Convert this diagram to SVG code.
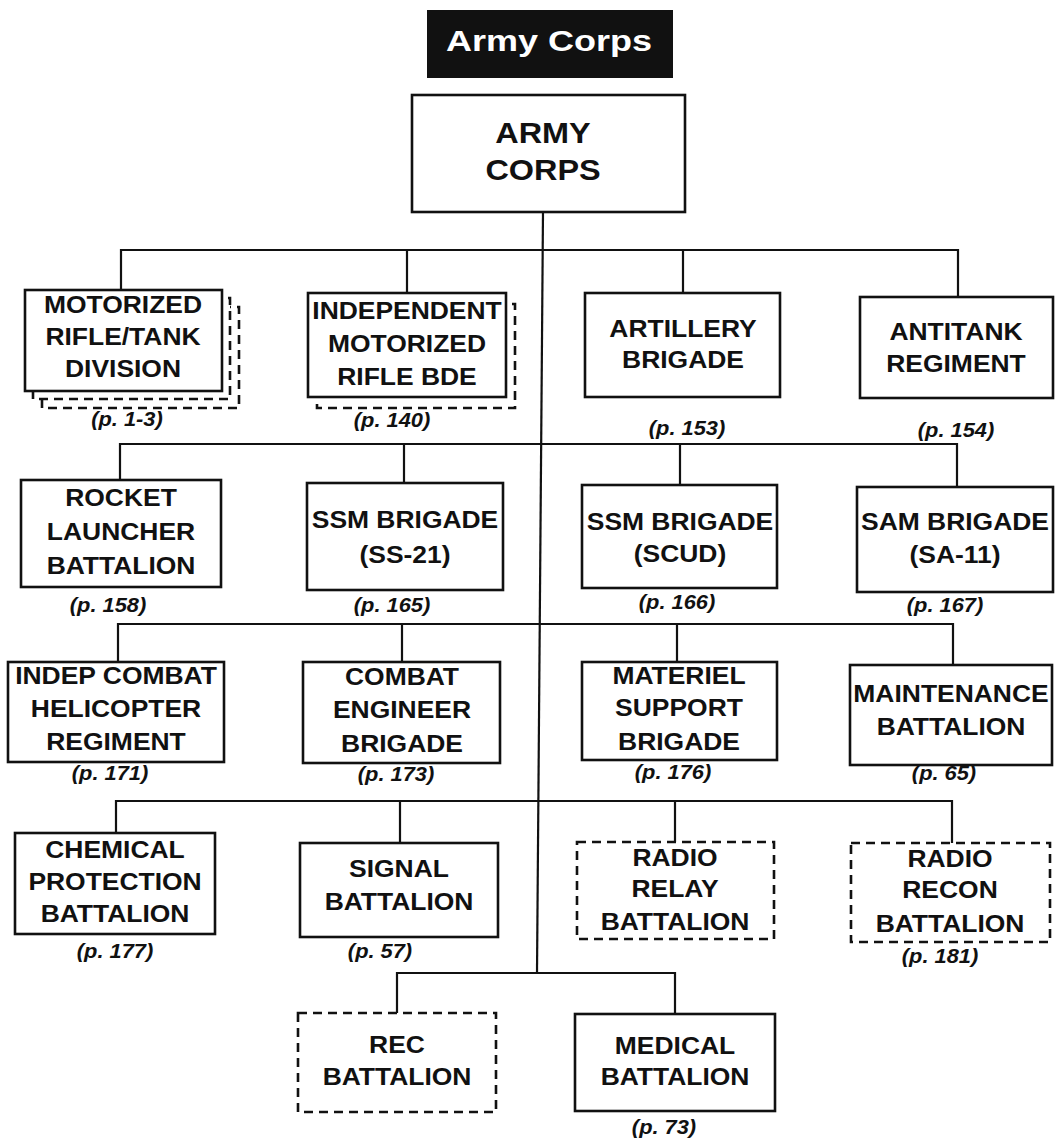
<svg xmlns="http://www.w3.org/2000/svg" width="1058" height="1142" viewBox="0 0 1058 1142">
<style>
.bx{fill:#fff;stroke:#111;stroke-width:2.6}
.dx{fill:#fff;stroke:#111;stroke-width:2.6;stroke-dasharray:9 6}
.t{font-family:"Liberation Sans",Arial,sans-serif;font-weight:bold;font-size:23px;fill:#111;text-anchor:middle}
.p{font-family:"Liberation Sans",Arial,sans-serif;font-weight:bold;font-style:italic;font-size:19.5px;fill:#111;text-anchor:middle}
.c{fill:none;stroke:#111;stroke-width:2.2}
</style>
<rect width="1058" height="1142" fill="#fff"/>
<g id="title">
<rect x="427" y="10" width="246" height="68" fill="#111"/>
<text transform="translate(549 0) scale(1.2 1)" x="0" y="51" style="font-family:'Liberation Sans',Arial,sans-serif;font-weight:bold;font-size:30px;fill:#fff;text-anchor:middle">Army Corps</text>
</g>
<g id="connectors">
<path class="c" d="M543 212 L537 973"/>
<path class="c" d="M121 290 V250 H958 V297 M407 250 V293 M683 250 V293"/>
<path class="c" d="M120 480 V444 H957 V487 M404 444 V483 M680 444 V485"/>
<path class="c" d="M118 662 V624 H953 V665 M402 624 V662 M677 624 V662"/>
<path class="c" d="M116 833 V801 H952 V843 M400 801 V843 M675 801 V842"/>
<path class="c" d="M397 1013 V973 H675 V1014"/>
</g>
<g id="army-corps">
<rect class="bx" x="412" y="95" width="273" height="117"/>
<text class="t" style="font-size:30px" transform="translate(543 0) scale(1.08 1)"><tspan x="0" y="143">ARMY</tspan><tspan x="0" y="180">CORPS</tspan></text>
</g>
<g id="motorized">
<rect class="dx" x="42" y="307" width="197" height="101"/>
<rect class="dx" x="33" y="298" width="197" height="101"/>
<rect class="bx" x="25" y="290" width="197" height="101"/>
<text class="t" transform="translate(123 0) scale(1.15 1)"><tspan x="0" y="313">MOTORIZED</tspan><tspan x="0" y="345">RIFLE/TANK</tspan><tspan x="0" y="377">DIVISION</tspan></text>
<text class="p" transform="translate(127 0) scale(1.12 1)" x="0" y="426">(p. 1-3)</text>
</g>
<g id="independent">
<rect class="dx" x="317" y="304" width="198" height="104"/>
<rect class="bx" x="308" y="293" width="198" height="104"/>
<text class="t" transform="translate(407 0) scale(1.15 1)"><tspan x="0" y="319">INDEPENDENT</tspan><tspan x="0" y="352">MOTORIZED</tspan><tspan x="0" y="385">RIFLE BDE</tspan></text>
<text class="p" transform="translate(392 0) scale(1.12 1)" x="0" y="427">(p. 140)</text>
</g>
<g id="artillery">
<rect class="bx" x="585" y="293" width="195" height="104"/>
<text class="t" transform="translate(683 0) scale(1.15 1)"><tspan x="0" y="337">ARTILLERY</tspan><tspan x="0" y="368">BRIGADE</tspan></text>
<text class="p" transform="translate(687 0) scale(1.12 1)" x="0" y="435">(p. 153)</text>
</g>
<g id="antitank">
<rect class="bx" x="860" y="297" width="193" height="101"/>
<text class="t" transform="translate(956 0) scale(1.15 1)"><tspan x="0" y="340">ANTITANK</tspan><tspan x="0" y="372">REGIMENT</tspan></text>
<text class="p" transform="translate(956 0) scale(1.12 1)" x="0" y="437">(p. 154)</text>
</g>
<g id="rocket">
<rect class="bx" x="21" y="480" width="200" height="107"/>
<text class="t" transform="translate(121 0) scale(1.15 1)"><tspan x="0" y="506">ROCKET</tspan><tspan x="0" y="540">LAUNCHER</tspan><tspan x="0" y="574">BATTALION</tspan></text>
<text class="p" transform="translate(108 0) scale(1.12 1)" x="0" y="612">(p. 158)</text>
</g>
<g id="ssm-ss21">
<rect class="bx" x="307" y="483" width="196" height="107"/>
<text class="t" transform="translate(405 0) scale(1.15 1)"><tspan x="0" y="528">SSM BRIGADE</tspan><tspan x="0" y="563">(SS-21)</tspan></text>
<text class="p" transform="translate(392 0) scale(1.12 1)" x="0" y="612">(p. 165)</text>
</g>
<g id="ssm-scud">
<rect class="bx" x="582" y="485" width="195" height="103"/>
<text class="t" transform="translate(680 0) scale(1.15 1)"><tspan x="0" y="530">SSM BRIGADE</tspan><tspan x="0" y="562">(SCUD)</tspan></text>
<text class="p" transform="translate(677 0) scale(1.12 1)" x="0" y="609">(p. 166)</text>
</g>
<g id="sam">
<rect class="bx" x="857" y="487" width="196" height="105"/>
<text class="t" transform="translate(955 0) scale(1.15 1)"><tspan x="0" y="530">SAM BRIGADE</tspan><tspan x="0" y="563">(SA-11)</tspan></text>
<text class="p" transform="translate(945 0) scale(1.12 1)" x="0" y="612">(p. 167)</text>
</g>
<g id="helicopter">
<rect class="bx" x="8" y="662" width="216" height="100"/>
<text class="t" transform="translate(116 0) scale(1.15 1)"><tspan x="0" y="684">INDEP COMBAT</tspan><tspan x="0" y="717">HELICOPTER</tspan><tspan x="0" y="750">REGIMENT</tspan></text>
<text class="p" transform="translate(110 0) scale(1.12 1)" x="0" y="780">(p. 171)</text>
</g>
<g id="engineer">
<rect class="bx" x="303" y="662" width="197" height="101"/>
<text class="t" transform="translate(402 0) scale(1.15 1)"><tspan x="0" y="685">COMBAT</tspan><tspan x="0" y="718">ENGINEER</tspan><tspan x="0" y="752">BRIGADE</tspan></text>
<text class="p" transform="translate(396 0) scale(1.12 1)" x="0" y="781">(p. 173)</text>
</g>
<g id="materiel">
<rect class="bx" x="582" y="662" width="195" height="98"/>
<text class="t" transform="translate(679 0) scale(1.15 1)"><tspan x="0" y="684">MATERIEL</tspan><tspan x="0" y="716">SUPPORT</tspan><tspan x="0" y="750">BRIGADE</tspan></text>
<text class="p" transform="translate(673 0) scale(1.12 1)" x="0" y="779">(p. 176)</text>
</g>
<g id="maintenance">
<rect class="bx" x="850" y="665" width="202" height="100"/>
<text class="t" transform="translate(951 0) scale(1.15 1)"><tspan x="0" y="702">MAINTENANCE</tspan><tspan x="0" y="735">BATTALION</tspan></text>
<text class="p" transform="translate(944 0) scale(1.12 1)" x="0" y="780">(p. 65)</text>
</g>
<g id="chemical">
<rect class="bx" x="15" y="833" width="200" height="101"/>
<text class="t" transform="translate(115 0) scale(1.15 1)"><tspan x="0" y="858">CHEMICAL</tspan><tspan x="0" y="890">PROTECTION</tspan><tspan x="0" y="922">BATTALION</tspan></text>
<text class="p" transform="translate(115 0) scale(1.12 1)" x="0" y="958">(p. 177)</text>
</g>
<g id="signal">
<rect class="bx" x="300" y="843" width="198" height="94"/>
<text class="t" transform="translate(399 0) scale(1.15 1)"><tspan x="0" y="877">SIGNAL</tspan><tspan x="0" y="910">BATTALION</tspan></text>
<text class="p" transform="translate(380 0) scale(1.12 1)" x="0" y="958">(p. 57)</text>
</g>
<g id="radio-relay">
<rect class="dx" x="577" y="842" width="197" height="97"/>
<text class="t" transform="translate(675 0) scale(1.15 1)"><tspan x="0" y="866">RADIO</tspan><tspan x="0" y="897">RELAY</tspan><tspan x="0" y="930">BATTALION</tspan></text>
</g>
<g id="radio-recon">
<rect class="dx" x="851" y="843" width="199" height="99"/>
<text class="t" transform="translate(950 0) scale(1.15 1)"><tspan x="0" y="867">RADIO</tspan><tspan x="0" y="898">RECON</tspan><tspan x="0" y="932">BATTALION</tspan></text>
<text class="p" transform="translate(940 0) scale(1.12 1)" x="0" y="963">(p. 181)</text>
</g>
<g id="rec">
<rect class="dx" x="298" y="1013" width="198" height="99"/>
<text class="t" transform="translate(397 0) scale(1.15 1)"><tspan x="0" y="1053">REC</tspan><tspan x="0" y="1085">BATTALION</tspan></text>
</g>
<g id="medical">
<rect class="bx" x="575" y="1014" width="200" height="97"/>
<text class="t" transform="translate(675 0) scale(1.15 1)"><tspan x="0" y="1054">MEDICAL</tspan><tspan x="0" y="1085">BATTALION</tspan></text>
<text class="p" transform="translate(664 0) scale(1.12 1)" x="0" y="1134">(p. 73)</text>
</g>
</svg>
